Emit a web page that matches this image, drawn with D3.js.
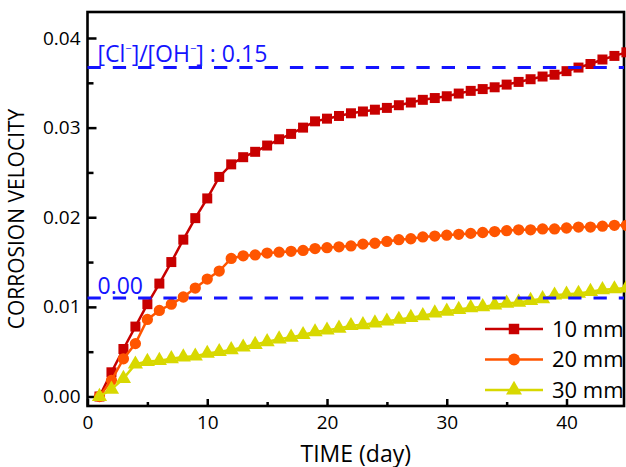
<!DOCTYPE html>
<html>
<head>
<meta charset="utf-8">
<script src="https://cdn.jsdelivr.net/npm/d3@7"></script>
<style>
  body { margin: 0; background: #fff; }
  svg { display: block; font-family: "Open Sans", sans-serif; }
</style>
</head>
<body>
<div class="graph"></div>
<script>
const days = [1,2,3,4,5,6,7,8,9,10,11,12,13,14,15,16,17,18,19,20,21,22,23,24,25,26,27,28,29,30,
              31,32,33,34,35,36,37,38,39,40,41,42,43,44,45]

const mm10 = [0.0000,0.0027,0.0053,0.0078,0.0103,0.0126,0.0150,0.0175,0.0199,0.0221,
              0.0245,0.0259,0.0267,0.0273,0.0280,0.0287,0.0293,0.0300,0.0307,0.0310,
              0.0313,0.0316,0.0318,0.0320,0.0322,0.0325,0.0328,0.0331,0.0333,0.0335,
              0.0338,0.0341,0.0343,0.0345,0.0348,0.0351,0.0354,0.0357,0.0359,0.0363,
              0.0367,0.0371,0.0376,0.0380,0.0384]

const mm20 = [0.0000,0.0018,0.0042,0.0059,0.0086,0.0096,0.0103,0.0111,0.0121,0.0131,
              0.0140,0.0154,0.0157,0.0158,0.0160,0.0161,0.0162,0.0163,0.0165,0.0166,
              0.0167,0.0168,0.0170,0.0171,0.0173,0.0175,0.0176,0.0178,0.0179,0.0180,
              0.0181,0.0182,0.0183,0.0184,0.0185,0.0186,0.0186,0.0187,0.0187,0.0188,
              0.0189,0.0189,0.0190,0.0191,0.0191]

const mm30 = [0.0000,0.0008,0.0020,0.0036,0.0039,0.0040,0.0042,0.0044,0.0045,0.0048,
              0.0050,0.0052,0.0055,0.0058,0.0061,0.0064,0.0066,0.0069,0.0072,0.0074,
              0.0076,0.0079,0.0080,0.0082,0.0084,0.0086,0.0088,0.0090,0.0093,0.0095,
              0.0097,0.0099,0.0100,0.0102,0.0104,0.0105,0.0107,0.0109,0.0113,0.0114,
              0.0115,0.0117,0.0119,0.0120,0.0121]

const seriesNames = ["10 mm", "20 mm", "30 mm"]
const xTicks = [0, 10, 20, 30, 40]
const xMinor = [5, 15, 25, 35]
const yTicks = [0, 0.01, 0.02, 0.03, 0.04]
const yMinor = [0.005, 0.015, 0.025, 0.035]
const refLevels = [0.0367, 0.0110]

const width = 626, height = 467
const margin = {top: 12, right: 2, bottom: 61, left: 87.5}

const svg = d3.select(".graph").append("svg")
    .attr("width", width)
    .attr("height", height)

const x = d3.scaleLinear()
    .domain([0, 44.8])
    .range([margin.left, width - margin.right])

const y = d3.scaleLinear()
    .domain([-0.00106, 0.0429])
    .range([height - margin.bottom, margin.top])

const colors = ["#c80000", "#ff5500", "#d8d800"]
const symbols = [d3.symbolSquare, d3.symbolCircle, d3.symbolTriangle]
const symSize = [100, 100, 100]

const series = [mm10, mm20, mm30].map((vals, i) => ({
    name: seriesNames[i],
    color: colors[i],
    points: days.map((d, j) => ({day: d, v: vals[j]}))
}))

// axes, ticks inward
const xAxis = g => g
    .attr("transform", `translate(0, ${y.range()[0]})`)
    .call(d3.axisBottom(x).tickValues(xTicks).tickSize(-7).tickSizeOuter(0).tickPadding(10))
    .call(g => g.select(".domain").remove())

const xAxisMinor = g => g
    .attr("transform", `translate(0, ${y.range()[0]})`)
    .call(d3.axisBottom(x).tickValues(xMinor).tickSize(-4).tickSizeOuter(0).tickFormat(""))
    .call(g => g.select(".domain").remove())

const yAxis = g => g
    .attr("transform", `translate(${x.range()[0]}, 0)`)
    .call(d3.axisLeft(y).tickValues(yTicks).tickSize(-9).tickSizeOuter(0).tickPadding(7).tickFormat(d3.format(".2f")))
    .call(g => g.select(".domain").remove())

const yAxisMinor = g => g
    .attr("transform", `translate(${x.range()[0]}, 0)`)
    .call(d3.axisLeft(y).tickValues(yMinor).tickSize(-6).tickSizeOuter(0).tickFormat(""))
    .call(g => g.select(".domain").remove())

svg.append("g").call(xAxis)
svg.append("g").call(xAxisMinor)
svg.append("g").call(yAxis)
svg.append("g").call(yAxisMinor)

svg.selectAll(".tick line").attr("stroke", "#000").attr("stroke-width", 2.5)
svg.selectAll(".tick text")
    .attr("fill", "#000")
    .style("font-family", "Open Sans")
    .style("font-size", "19px")

// frame
svg.append("rect")
    .attr("x", x.range()[0])
    .attr("y", y.range()[1])
    .attr("width", x.range()[1] - x.range()[0])
    .attr("height", y.range()[0] - y.range()[1])
    .attr("fill", "none")
    .attr("stroke", "#000")
    .attr("stroke-width", 2.6)

// series
const line = d3.line().x(d => x(d.day)).y(d => y(d.v))

series.forEach((s, i) => {
    const g = svg.append("g")
    g.append("path")
        .datum(s.points)
        .attr("d", line)
        .attr("fill", "none")
        .attr("stroke", s.color)
        .attr("stroke-width", 2.5)
    g.selectAll("path.pt")
        .data(s.points)
        .join("path")
        .attr("class", "pt")
        .attr("d", d3.symbol().type(symbols[i]).size(symSize[i]))
        .attr("transform", d => `translate(${x(d.day)}, ${y(d.v)})`)
        .attr("fill", s.color)
})

// reference dashed lines
svg.selectAll("line.ref")
    .data(refLevels)
    .join("line")
    .attr("class", "ref")
    .attr("x1", x.range()[0])
    .attr("x2", x.range()[1])
    .attr("y1", d => y(d))
    .attr("y2", d => y(d))
    .attr("stroke", "#1414ff")
    .attr("stroke-width", 3)
    .attr("stroke-dasharray", "13.3,12")

const lab1 = svg.append("text")
    .attr("x", x.range()[0] + 10)
    .attr("y", y(refLevels[0]) - 6)
    .attr("fill", "#1414ff")
    .style("font-size", "23px")
lab1.append("tspan").text("[Cl")
lab1.append("tspan").text("\u2212").attr("dy", -10).style("font-size", "11px")
lab1.append("tspan").text("]/[OH").attr("dy", 10)
lab1.append("tspan").text("\u2212").attr("dy", -10).style("font-size", "11px")
lab1.append("tspan").text("] : 0.15").attr("dy", 10)

svg.append("text")
    .attr("x", x.range()[0] + 10)
    .attr("y", y(refLevels[1]) - 4)
    .attr("fill", "#1414ff")
    .style("font-size", "23px")
    .text("0.00")

// axis titles
svg.append("text")
    .attr("x", (x(0) + x(44.8)) / 2)
    .attr("y", 461.5)
    .attr("text-anchor", "middle")
    .style("font-size", "23px")
    .text("TIME (day)")

svg.append("text")
    .attr("transform", "translate(24, 219) rotate(-90)")
    .attr("text-anchor", "middle")
    .style("font-size", "21px")
    .text("CORROSION VELOCITY")

// legend
const legend = svg.append("g").attr("transform", "translate(485, 329)")
series.forEach((s, i) => {
    const row = legend.append("g").attr("transform", `translate(0, ${i * 30.5})`)
    row.append("line")
        .attr("x1", 0).attr("x2", 58)
        .attr("stroke", s.color)
        .attr("stroke-width", 2.5)
    row.append("path")
        .attr("d", d3.symbol().type(symbols[i]).size(symSize[i] * 1.1))
        .attr("transform", "translate(29, 0)")
        .attr("fill", s.color)
    row.append("text")
        .attr("x", 67)
        .attr("y", 7.5)
        .style("font-size", "22px")
        .text(s.name)
})
</script>
</body>
</html>
